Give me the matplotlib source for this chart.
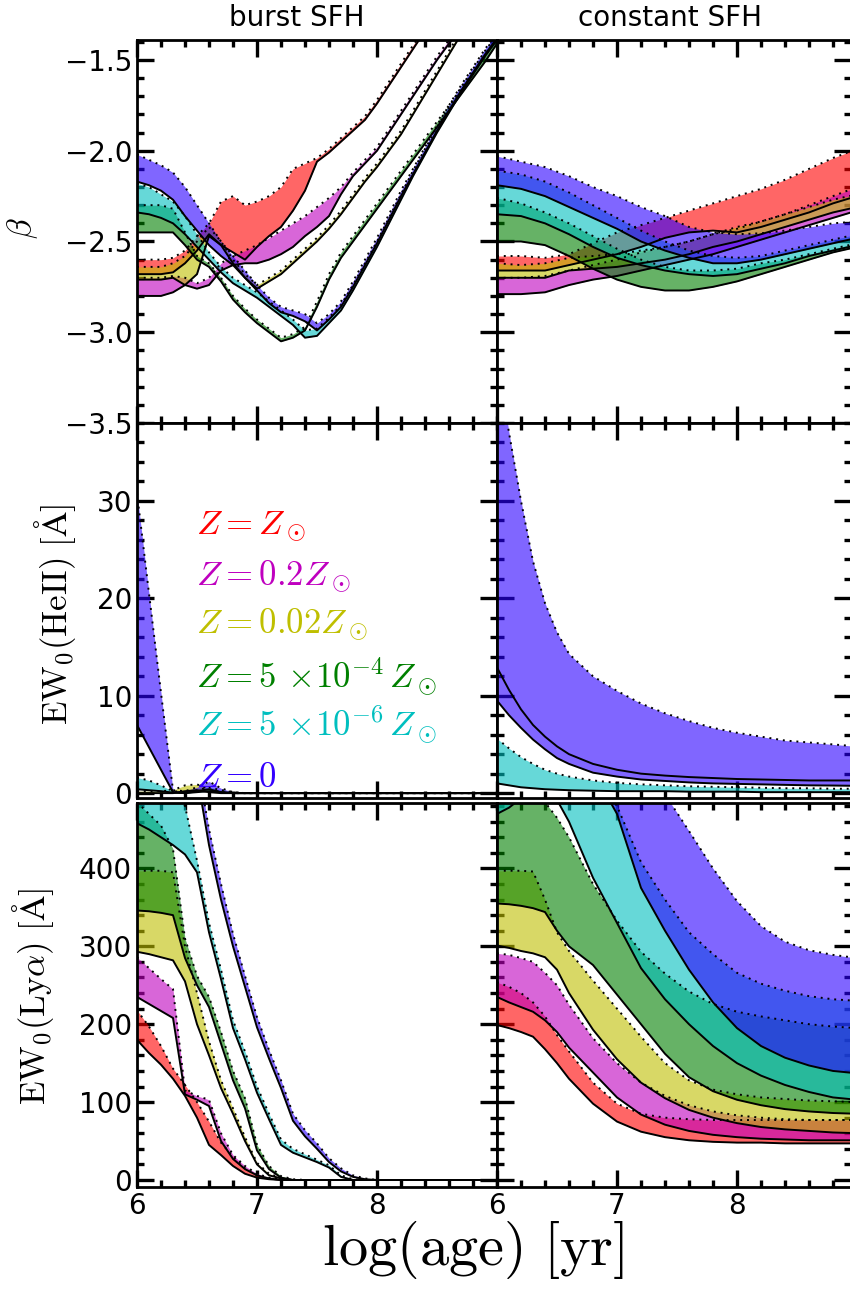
import numpy as np
import matplotlib.pyplot as plt
from matplotlib.ticker import MultipleLocator, FixedLocator

plt.rcParams['mathtext.fontset'] = 'cm'
plt.rcParams['font.family'] = 'DejaVu Sans'

# metallicities, low to high drawing order
z_labels = [r'$Z=Z_\odot$', r'$Z=0.2Z_\odot$', r'$Z=0.02Z_\odot$',
            r'$Z=5\,\times\!10^{-4}\,Z_\odot$', r'$Z=5\,\times\!10^{-6}\,Z_\odot$', r'$Z=0$']
text_colors = ['#ff0000', '#bf00bf', '#bfbf00', '#008000', '#00bfbf', '#3300ff']
fill_colors = ['#ff0000', '#bf00bf', '#bfbf00', '#008000', '#00bfbf', '#2b00ff']

# ---- UV slope beta, burst (log age 6.0 .. 9.0, step 0.1)
age_bb = np.round(np.arange(6.0, 9.01, 0.1), 1)
bb_red_hi = [-2.60,-2.60,-2.60,-2.59,-2.55,-2.47,-2.40,-2.28,-2.25,-2.30,-2.28,-2.25,-2.20,-2.10,-2.07,-2.04,-1.99,-1.93,-1.87,-1.81,-1.72,-1.62,-1.52,-1.42,-1.32,-1.22,-1.12,-1.02,-0.92,-0.82,-0.72]
bb_red_lo = [-2.68,-2.68,-2.68,-2.67,-2.62,-2.55,-2.46,-2.52,-2.56,-2.60,-2.53,-2.47,-2.42,-2.33,-2.22,-2.06,-2.01,-1.95,-1.89,-1.83,-1.74,-1.64,-1.54,-1.44,-1.34,-1.24,-1.14,-1.04,-0.94,-0.84,-0.74]
bb_mag_hi = [-2.70,-2.70,-2.70,-2.69,-2.70,-2.73,-2.70,-2.62,-2.58,-2.55,-2.52,-2.48,-2.44,-2.40,-2.36,-2.31,-2.26,-2.20,-2.12,-2.05,-1.98,-1.88,-1.78,-1.68,-1.58,-1.48,-1.39,-1.30,-1.21,-1.12,-1.03]
bb_mag_lo = [-2.80,-2.80,-2.80,-2.78,-2.74,-2.76,-2.74,-2.66,-2.63,-2.62,-2.62,-2.60,-2.57,-2.53,-2.47,-2.42,-2.36,-2.24,-2.14,-2.07,-2.00,-1.90,-1.80,-1.70,-1.60,-1.50,-1.41,-1.32,-1.23,-1.14,-1.05]
bb_yel_hi = [-2.64,-2.64,-2.64,-2.62,-2.58,-2.50,-2.42,-2.50,-2.60,-2.68,-2.74,-2.70,-2.66,-2.60,-2.54,-2.48,-2.41,-2.33,-2.24,-2.15,-2.07,-1.98,-1.89,-1.78,-1.67,-1.56,-1.45,-1.34,-1.24,-1.14,-1.04]
bb_yel_lo = [-2.71,-2.71,-2.71,-2.70,-2.74,-2.68,-2.47,-2.52,-2.62,-2.70,-2.76,-2.72,-2.68,-2.62,-2.56,-2.50,-2.43,-2.35,-2.26,-2.17,-2.09,-2.00,-1.91,-1.80,-1.69,-1.58,-1.47,-1.36,-1.26,-1.16,-1.06]
bb_grn_hi = [-2.30,-2.30,-2.30,-2.32,-2.45,-2.58,-2.62,-2.70,-2.80,-2.87,-2.93,-2.98,-3.03,-3.01,-2.97,-2.83,-2.68,-2.56,-2.47,-2.38,-2.29,-2.20,-2.11,-2.02,-1.93,-1.84,-1.75,-1.66,-1.57,-1.48,-1.38]
bb_grn_lo = [-2.45,-2.45,-2.45,-2.45,-2.52,-2.60,-2.64,-2.72,-2.82,-2.89,-2.95,-3.00,-3.05,-3.03,-2.99,-2.86,-2.71,-2.59,-2.50,-2.41,-2.32,-2.23,-2.14,-2.05,-1.96,-1.87,-1.78,-1.69,-1.60,-1.51,-1.41]
bb_cyn_hi = [-2.18,-2.20,-2.24,-2.28,-2.36,-2.46,-2.56,-2.64,-2.70,-2.74,-2.78,-2.83,-2.88,-2.93,-2.99,-2.98,-2.92,-2.85,-2.74,-2.62,-2.50,-2.37,-2.24,-2.11,-1.99,-1.87,-1.76,-1.65,-1.55,-1.45,-1.36]
bb_cyn_lo = [-2.34,-2.35,-2.37,-2.40,-2.46,-2.53,-2.60,-2.67,-2.73,-2.77,-2.81,-2.86,-2.91,-2.96,-3.03,-3.02,-2.95,-2.88,-2.77,-2.65,-2.53,-2.40,-2.27,-2.14,-2.02,-1.90,-1.79,-1.68,-1.58,-1.48,-1.39]
bb_blu_hi = [-2.02,-2.05,-2.08,-2.12,-2.20,-2.30,-2.40,-2.50,-2.58,-2.66,-2.74,-2.81,-2.86,-2.88,-2.90,-2.95,-2.90,-2.83,-2.72,-2.60,-2.48,-2.35,-2.22,-2.10,-1.98,-1.86,-1.75,-1.64,-1.54,-1.44,-1.35]
bb_blu_lo = [-2.17,-2.19,-2.22,-2.27,-2.36,-2.44,-2.52,-2.58,-2.63,-2.70,-2.77,-2.84,-2.89,-2.91,-2.94,-2.99,-2.93,-2.86,-2.75,-2.63,-2.51,-2.38,-2.25,-2.13,-2.01,-1.89,-1.78,-1.67,-1.57,-1.47,-1.38]

# ---- beta, constant SFH (step 0.2)
age_bc = [6.0, 6.2, 6.4, 6.6, 6.8, 7.0, 7.2, 7.4, 7.6, 7.8, 8.0, 8.2, 8.4, 8.6, 8.8, 9.0]
bc_red_hi = [-2.58,-2.58,-2.59,-2.57,-2.51,-2.45,-2.41,-2.37,-2.33,-2.29,-2.25,-2.21,-2.16,-2.10,-2.04,-1.99]
bc_red_lo = [-2.66,-2.66,-2.66,-2.63,-2.60,-2.57,-2.53,-2.48,-2.45,-2.44,-2.45,-2.42,-2.38,-2.34,-2.29,-2.25]
bc_mag_hi = [-2.70,-2.70,-2.69,-2.66,-2.63,-2.60,-2.56,-2.53,-2.50,-2.46,-2.43,-2.39,-2.35,-2.30,-2.25,-2.20]
bc_mag_lo = [-2.79,-2.79,-2.78,-2.74,-2.71,-2.69,-2.66,-2.63,-2.60,-2.57,-2.53,-2.49,-2.45,-2.41,-2.37,-2.33]
bc_yel_hi = [-2.62,-2.63,-2.62,-2.59,-2.58,-2.57,-2.55,-2.53,-2.50,-2.46,-2.42,-2.39,-2.35,-2.31,-2.27,-2.24]
bc_yel_lo = [-2.70,-2.70,-2.70,-2.66,-2.65,-2.64,-2.62,-2.60,-2.57,-2.53,-2.50,-2.46,-2.42,-2.38,-2.34,-2.31]
bc_grn_hi = [-2.26,-2.29,-2.34,-2.40,-2.47,-2.54,-2.60,-2.64,-2.66,-2.66,-2.65,-2.62,-2.60,-2.57,-2.54,-2.51]
bc_grn_lo = [-2.50,-2.50,-2.52,-2.58,-2.65,-2.71,-2.75,-2.77,-2.77,-2.75,-2.72,-2.68,-2.64,-2.60,-2.56,-2.53]
bc_cyn_hi = [-2.11,-2.13,-2.17,-2.23,-2.30,-2.37,-2.44,-2.50,-2.55,-2.58,-2.59,-2.58,-2.55,-2.52,-2.49,-2.46]
bc_cyn_lo = [-2.35,-2.36,-2.40,-2.46,-2.53,-2.59,-2.63,-2.66,-2.68,-2.69,-2.68,-2.65,-2.62,-2.58,-2.55,-2.52]
bc_blu_hi = [-2.03,-2.06,-2.09,-2.14,-2.20,-2.25,-2.31,-2.36,-2.42,-2.45,-2.46,-2.455,-2.44,-2.42,-2.40,-2.39]
bc_blu_lo = [-2.19,-2.21,-2.25,-2.31,-2.37,-2.43,-2.50,-2.55,-2.59,-2.62,-2.62,-2.60,-2.57,-2.54,-2.51,-2.48]

# ---- EW(HeII), burst
age_hb = [6.0, 6.1, 6.2, 6.3, 6.4, 6.5, 6.6, 6.7, 6.8, 6.9, 7.0, 9.0]
hb_yel_hi = [0.2, 0.2, 0.2, 0.3, 0.8, 0.9, 0.4, 0.1, 0, 0, 0, 0]
hb_yel_lo = [0, 0, 0, 0, 0.2, 0.3, 0.1, 0, 0, 0, 0, 0]
hb_cyn_hi = [1.6, 1.3, 0.8, 0.2, 0.1, 0.3, 0.6, 0.3, 0.1, 0, 0, 0]
hb_cyn_lo = [0.4, 0.3, 0.2, 0.05, 0, 0.1, 0.2, 0.1, 0, 0, 0, 0]
hb_blu_hi = [30.8, 20.5, 10.3, 0.3, 0.2, 0.6, 1.2, 0.5, 0.1, 0, 0, 0]
hb_blu_lo = [7.0, 4.7, 2.4, 0.1, 0, 0.2, 0.4, 0.1, 0, 0, 0, 0]

# ---- EW(HeII), constant SFH
age_c = [6.0, 6.1, 6.2, 6.3, 6.4, 6.5, 6.6, 6.8, 7.0, 7.2, 7.4, 7.6, 7.8, 8.0, 8.2, 8.4, 8.6, 8.8, 9.0]
hc_cyn_hi = [5.6, 4.6, 3.7, 3.0, 2.4, 2.0, 1.7, 1.3, 1.05, 0.9, 0.8, 0.7, 0.65, 0.6, 0.55, 0.5, 0.5, 0.45, 0.45]
hc_cyn_lo = [1.0, 0.8, 0.6, 0.5, 0.4, 0.35, 0.3, 0.25, 0.2, 0.2, 0.2, 0.15, 0.15, 0.15, 0.1, 0.1, 0.1, 0.1, 0.1]
hc_blu_hi = [45, 37, 30, 23.8, 19.5, 16.5, 14.3, 12.0, 10.5, 9.2, 8.2, 7.4, 6.7, 6.2, 5.8, 5.4, 5.2, 5.0, 4.8]
hc_blu_lo = [9.5, 8.0, 6.7, 5.5, 4.5, 3.6, 3.0, 2.1, 1.7, 1.4, 1.25, 1.1, 1.0, 0.95, 0.9, 0.85, 0.8, 0.78, 0.75]
hc_blu_mid = [12.9, 10.6, 8.6, 7.0, 5.8, 4.8, 4.0, 3.0, 2.4, 2.0, 1.8, 1.65, 1.55, 1.45, 1.4, 1.35, 1.3, 1.3, 1.3]

# ---- EW(Lya), burst
age_lb = [6.0, 6.1, 6.2, 6.3, 6.4, 6.5, 6.6, 6.7, 6.8, 6.9, 7.0, 7.1, 7.2, 7.3, 7.4, 7.5, 7.6, 7.7, 7.8, 7.9, 8.0, 9.0]
lb_red_hi = [218, 197, 172, 143, 122, 100, 75, 48, 30, 15, 6, 2, 1, 0, 0, 0, 0, 0, 0, 0, 0, 0]
lb_red_lo = [180, 163, 148, 130, 108, 80, 45, 32, 18, 8, 3, 1, 0, 0, 0, 0, 0, 0, 0, 0, 0, 0]
lb_mag_hi = [286, 272, 258, 245, 115, 108, 103, 60, 32, 18, 8, 3, 1, 0, 0, 0, 0, 0, 0, 0, 0, 0]
lb_mag_lo = [235, 226, 217, 208, 110, 103, 95, 50, 27, 14, 6, 2, 0, 0, 0, 0, 0, 0, 0, 0, 0, 0]
lb_yel_hi = [397, 397, 397, 395, 300, 240, 178, 128, 92, 55, 22, 8, 3, 0, 0, 0, 0, 0, 0, 0, 0, 0]
lb_yel_lo = [293, 290, 286, 282, 255, 200, 160, 118, 85, 50, 20, 6, 2, 0, 0, 0, 0, 0, 0, 0, 0, 0]
lb_grn_hi = [485, 470, 455, 425, 310, 262, 235, 190, 140, 105, 45, 18, 5, 1, 0, 0, 0, 0, 0, 0, 0, 0]
lb_grn_lo = [346, 345, 343, 340, 285, 250, 222, 175, 128, 92, 38, 14, 3, 0, 0, 0, 0, 0, 0, 0, 0, 0]
lb_cyn_hi = [530, 520, 510, 500, 480, 410, 330, 270, 205, 165, 120, 85, 52, 40, 33, 26, 19, 6, 1, 0, 0, 0]
lb_cyn_lo = [458, 450, 440, 430, 418, 395, 318, 258, 195, 155, 112, 78, 45, 35, 29, 23, 16, 4, 0, 0, 0, 0]
lb_blu_hi = [650, 640, 630, 620, 600, 540, 450, 380, 316, 262, 209, 167, 128, 85, 64, 47, 28, 15, 6, 2, 0, 0]
lb_blu_lo = [630, 620, 610, 600, 580, 520, 430, 360, 300, 248, 196, 156, 118, 76, 56, 40, 23, 11, 4, 1, 0, 0]

# ---- EW(Lya), constant SFH
lc_red_hi = [254, 248, 240, 228, 210, 186, 165, 125, 98, 85, 80, 78, 77, 77, 77, 77, 77, 77, 77]
lc_red_lo = [199, 195, 190, 184, 168, 150, 130, 98, 75, 62, 55, 51, 49, 48, 48, 47, 47, 47, 47]
lc_mag_hi = [291, 289, 285, 280, 266, 250, 225, 182, 150, 125, 108, 96, 88, 83, 80, 78, 77, 77, 77]
lc_mag_lo = [235, 228, 222, 216, 205, 190, 170, 138, 106, 84, 71, 63, 58, 55, 53, 52, 51, 51, 51]
lc_yel_hi = [397, 397, 397, 396, 360, 318, 294, 256, 220, 184, 150, 128, 116, 110, 106, 104, 102, 101, 100]
lc_yel_lo = [301, 298, 294, 291, 286, 270, 240, 193, 155, 125, 105, 90, 80, 73, 68, 65, 63, 61, 60]
lc_grn_hi = [500, 500, 498, 494, 485, 465, 440, 380, 333, 293, 265, 242, 226, 216, 210, 205, 200, 197, 195]
lc_grn_lo = [355, 354, 352, 349, 344, 320, 300, 276, 238, 200, 162, 132, 114, 103, 96, 91, 88, 86, 85]
lc_cyn_hi = [620, 615, 610, 600, 590, 575, 560, 525, 480, 408, 360, 318, 290, 266, 252, 243, 236, 232, 230]
lc_cyn_lo = [470, 478, 490, 500, 495, 488, 460, 388, 330, 272, 232, 200, 172, 150, 134, 122, 113, 106, 103]
lc_blu_hi = [900, 870, 840, 810, 780, 750, 720, 665, 610, 555, 495, 448, 400, 358, 326, 306, 295, 289, 285]
lc_blu_lo = [700, 680, 660, 640, 620, 600, 575, 525, 470, 375, 320, 270, 228, 195, 172, 157, 147, 140, 137]


def draw_bands(ax, age, bands):
    # bands: list of (hi, lo) per metallicity, None where absent
    for col, band in zip(fill_colors, bands):
        if band is None:
            continue
        hi, lo = band
        ax.fill_between(age, lo, hi, color=col, alpha=0.6, lw=0, zorder=2)
    for band in bands:
        if band is None:
            continue
        hi, lo = band
        ax.plot(age, hi, color='k', ls=(0, (1, 2.5)), lw=1.4, zorder=3)
        ax.plot(age, lo, color='k', ls='-', lw=1.4, zorder=3)


def style(ax, xmax, ylim, ymaj, ymin):
    ax.set_xlim(6, xmax)
    ax.set_ylim(*ylim)
    ax.xaxis.set_major_locator(FixedLocator([6, 7, 8]))
    ax.xaxis.set_minor_locator(MultipleLocator(0.2))
    ax.yaxis.set_major_locator(MultipleLocator(ymaj))
    ax.yaxis.set_minor_locator(MultipleLocator(ymin))
    ax.tick_params(which='both', direction='in', top=True, right=True, labelsize=20)
    ax.tick_params(which='major', length=12, width=2.4)
    ax.tick_params(which='minor', length=5, width=2.4)
    for s in ax.spines.values():
        s.set_linewidth(2)


W, H = 850, 1300
fig = plt.figure(figsize=(8.5, 13), dpi=100)


def rect(x0, x1, ytop, ybot):
    return [x0 / W, 1 - ybot / H, (x1 - x0) / W, (ybot - ytop) / H]


rows = [(40, 423), (423, 798), (803, 1187)]
cols = [(137, 497, 9.0), (497, 851, 8.95)]
ylims = [((-3.5, -1.39), 0.5, 0.1), ((-0.5, 38), 10, 2), ((-9, 484), 100, 20)]

axes = [[None, None], [None, None], [None, None]]
for i, (yt, yb) in enumerate(rows):
    for j, (x0, x1, xmax) in enumerate(cols):
        ax = fig.add_axes(rect(x0, x1, yt, yb))
        lim, maj, mnr = ylims[i]
        style(ax, xmax, lim, maj, mnr)
        if j == 1:
            ax.tick_params(labelleft=False)
        if i < 2:
            ax.tick_params(labelbottom=False)
        axes[i][j] = ax

draw_bands(axes[0][0], age_bb, [(bb_red_hi, bb_red_lo), (bb_mag_hi, bb_mag_lo),
                                (bb_yel_hi, bb_yel_lo), (bb_grn_hi, bb_grn_lo),
                                (bb_cyn_hi, bb_cyn_lo), (bb_blu_hi, bb_blu_lo)])
draw_bands(axes[0][1], age_bc, [(bc_red_hi, bc_red_lo), (bc_mag_hi, bc_mag_lo),
                                (bc_yel_hi, bc_yel_lo), (bc_grn_hi, bc_grn_lo),
                                (bc_cyn_hi, bc_cyn_lo), (bc_blu_hi, bc_blu_lo)])
draw_bands(axes[1][0], age_hb, [None, None, (hb_yel_hi, hb_yel_lo), None,
                                (hb_cyn_hi, hb_cyn_lo), (hb_blu_hi, hb_blu_lo)])
draw_bands(axes[1][1], age_c, [None, None, None, None,
                               (hc_cyn_hi, hc_cyn_lo), (hc_blu_hi, hc_blu_lo)])
axes[1][1].plot(age_c, hc_blu_mid, color='k', lw=1.4, zorder=3)
draw_bands(axes[2][0], age_lb, [(lb_red_hi, lb_red_lo), (lb_mag_hi, lb_mag_lo),
                                (lb_yel_hi, lb_yel_lo), (lb_grn_hi, lb_grn_lo),
                                (lb_cyn_hi, lb_cyn_lo), (lb_blu_hi, lb_blu_lo)])
draw_bands(axes[2][1], age_c, [(lc_red_hi, lc_red_lo), (lc_mag_hi, lc_mag_lo),
                               (lc_yel_hi, lc_yel_lo), (lc_grn_hi, lc_grn_lo),
                               (lc_cyn_hi, lc_cyn_lo), (lc_blu_hi, lc_blu_lo)])

# metallicity key inside the HeII burst panel
key_y = [0.723, 0.589, 0.461, 0.323, 0.195, 0.056]
for lab, col, yy in zip(z_labels, text_colors, key_y):
    axes[1][0].text(0.165, yy, lab, color=col, fontsize=25, va='center', ha='left',
                    transform=axes[1][0].transAxes, zorder=5)

# labels
fig.text(23 / W, 1 - 228 / H, r'$\beta$', fontsize=24, rotation=90, ha='center', va='center')
fig.text(55 / W, 1 - 614 / H, r'$\mathrm{EW_0(HeII)\ [\AA]}$', fontsize=25,
         rotation=90, ha='center', va='center')
fig.text(33 / W, 1 - 997 / H, r'$\mathrm{EW_0(Ly\alpha)\ [\AA]}$', fontsize=25,
         rotation=90, ha='center', va='center')
fig.text(473 / W, 1 - 1250 / H, r'$\mathrm{log(age)\ [yr]}$', fontsize=42,
         ha='center', va='center')
fig.text(297 / W, 1 - 18 / H, 'burst SFH', fontsize=20, ha='center', va='center')
fig.text(670 / W, 1 - 18 / H, 'constant SFH', fontsize=20, ha='center', va='center')

fig.savefig('out.png', dpi=100)
